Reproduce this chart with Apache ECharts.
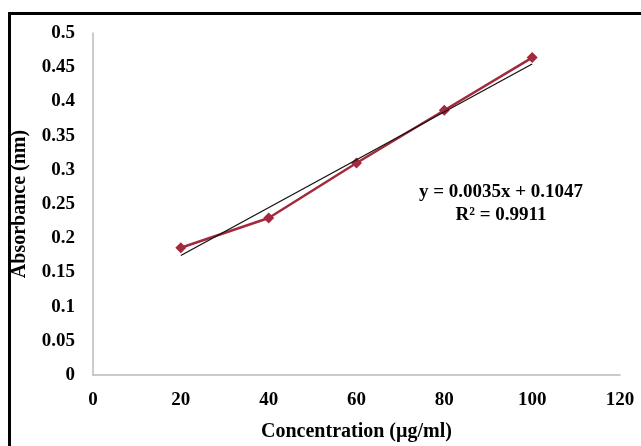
<!DOCTYPE html>
<html>
<head>
<meta charset="utf-8">
<script src="https://cdn.jsdelivr.net/npm/echarts@6/dist/echarts.min.js"></script>
<style>html,body{margin:0;padding:0;background:#fff;}#c{width:641px;height:446px;}</style>
</head>
<body>
<div id="c"></div>
<script>
const concentration = [20, 40, 60, 80, 100];
const absorbance = [0.186, 0.2295, 0.310, 0.387, 0.464];
const slope = 0.0035, intercept = 0.1047;
const trendX = [20, 100];
const xTicks = [0, 20, 40, 60, 80, 100, 120];
const yTicks = [0, 0.05, 0.1, 0.15, 0.2, 0.25, 0.3, 0.35, 0.4, 0.45, 0.5];
const eqText = 'y = 0.0035x + 0.1047';
const r2Text = 'R² = 0.9911';

const chart = echarts.init(document.getElementById('c'));
const font = '"Liberation Serif", "Times New Roman", serif';
chart.setOption({
  animation: false,
  grid: {left: 93, right: 21, top: 33, bottom: 71, outerBoundsMode: 'none', containLabel: false},
  xAxis: {
    type: 'value', min: 0, max: 120, interval: 20,
    name: 'Concentration (µg/ml)', nameLocation: 'middle', nameGap: 47,
    nameTextStyle: {fontFamily: font, fontWeight: 'bold', fontSize: 20, color: '#000'},
    axisLine: {show: true, lineStyle: {color: '#bbb', width: 1.5}},
    axisTick: {show: false}, splitLine: {show: false},
    axisLabel: {fontFamily: font, fontWeight: 'bold', fontSize: 19, color: '#000', margin: 16}
  },
  yAxis: {
    type: 'value', min: 0, max: 0.5, interval: 0.05,
    name: 'Absorbance (nm)', nameLocation: 'middle', nameGap: 63,
    nameTextStyle: {fontFamily: font, fontWeight: 'bold', fontSize: 20, color: '#000'},
    axisLine: {show: true, lineStyle: {color: '#bbb', width: 1.5}},
    axisTick: {show: false}, splitLine: {show: false},
    axisLabel: {fontFamily: font, fontWeight: 'bold', fontSize: 19, color: '#000', margin: 18,
      formatter: v => String(+v.toFixed(2))}
  },
  series: [
    {
      type: 'line', data: trendX.map(x => [x, slope * x + intercept]),
      symbol: 'none', lineStyle: {color: '#111', width: 1.3}, z: 3
    },
    {
      type: 'line', data: concentration.map((x, i) => [x, absorbance[i]]),
      symbol: 'diamond', symbolSize: 11,
      itemStyle: {color: '#a3293d'}, lineStyle: {color: '#a3293d', width: 2.5}, z: 2
    }
  ],
  graphic: [
    {type: 'rect', shape: {x: 9.5, y: 13.5, width: 660, height: 460},
      style: {fill: 'none', stroke: '#000', lineWidth: 3}},
    {type: 'text', x: 501, y: 192, style: {text: eqText, font: 'bold 19px ' + font, fill: '#000', align: 'center', verticalAlign: 'middle'}},
    {type: 'text', x: 501, y: 215, style: {text: r2Text, font: 'bold 19px ' + font, fill: '#000', align: 'center', verticalAlign: 'middle'}}
  ]
});
</script>
</body>
</html>
